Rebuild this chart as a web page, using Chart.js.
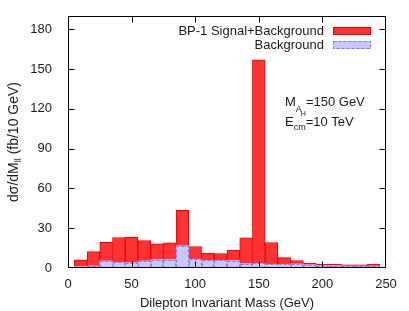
<!DOCTYPE html>
<html><head><meta charset="utf-8">
<script src="https://cdn.jsdelivr.net/npm/chart.js@4.4.0/dist/chart.umd.min.js"></script>
<style>html,body{margin:0;padding:0;background:#fff;}#wrap{width:409px;height:311px;}</style>
</head><body><div id="wrap"><canvas id="c" width="409" height="311"></canvas></div>
<script>
const binCenters = [10,20,30,40,50,60,70,80,90,100,110,120,130,140,150,160,170,180,190,200,210,220,230,240];
const signalPlusBackground = [6.1,12.4,19.4,23.0,23.2,20.7,18.2,18.9,43.4,16.2,11.1,10.9,13.6,22.7,157.0,19.2,7.8,5.6,3.8,3.0,3.0,2.3,2.3,3.0];
const background = [1.0,1.5,5.3,4.3,4.0,5.3,6.3,6.3,16.7,6.6,5.8,5.8,5.6,3.3,3.5,2.8,2.8,3.0,2.5,1.8,1.8,1.5,1.5,1.5];
const xTickValues = [0,50,100,150,200,250];
const yTickValues = [0,30,60,90,120,150,180];
const legendLabels = ['BP-1 Signal+Background','Background'];
const xTitle = 'Dilepton Invariant Mass (GeV)';

const FONT = '"Liberation Sans", Arial, Helvetica, sans-serif';
const TXT = '#1a1a1a';

const toXY = (vals) => binCenters.map((x,i) => ({x: x, y: vals[i]}));

const decor = {
  id: 'decor',
  afterDatasetsDraw(chart) {
    const ctx = chart.ctx;
    const a = chart.chartArea;
    const xs = chart.scales.x, ys = chart.scales.y;
    const meta = chart.getDatasetMeta(1);
    ctx.save();
    ctx.strokeStyle = 'rgba(110,110,255,0.9)';
    ctx.lineWidth = 1;
    ctx.setLineDash([3,2]);
    meta.data.forEach(el => {
      const p = el.getProps(['x','y','base','width'], true);
      const l = Math.round(p.x - p.width/2) + 0.5, r = Math.round(p.x + p.width/2) - 0.5;
      const t = Math.round(p.y) + 0.5, b = Math.round(p.base) - 0.5;
      ctx.strokeRect(l, t, r - l, b - t);
    });
    ctx.restore();

    ctx.save();
    ctx.strokeStyle = '#000';
    ctx.lineWidth = 1;
    const L = Math.round(a.left)+0.5, R = Math.round(a.right)-0.5, T = Math.round(a.top)+0.5, B = Math.round(a.bottom)-0.5;
    ctx.strokeRect(L, T, R-L, B-T);
    const tl = 6;
    ctx.beginPath();
    yTickValues.forEach(v => {
      const y = Math.round(ys.getPixelForValue(v)) + 0.5;
      if (v === 0) return;
      ctx.moveTo(L, y); ctx.lineTo(L+tl, y);
      ctx.moveTo(R, y); ctx.lineTo(R-tl, y);
    });
    xTickValues.forEach(v => {
      const x = Math.round(xs.getPixelForValue(v)) + 0.5;
      if (v === 0 || v === 250) return;
      ctx.moveTo(x, B); ctx.lineTo(x, B-tl);
      ctx.moveTo(x, T); ctx.lineTo(x, T+tl);
    });
    ctx.stroke();
    ctx.restore();

    ctx.save();
    ctx.font = '13px ' + FONT;
    ctx.fillStyle = TXT;
    ctx.textAlign = 'right';
    ctx.textBaseline = 'middle';
    const lx = 324, ly = [31, 45];
    ctx.fillText(legendLabels[0], lx, ly[0]);
    ctx.fillText(legendLabels[1], lx, ly[1]);
    const ds0 = chart.data.datasets[0], ds1 = chart.data.datasets[1];
    ctx.fillStyle = ds0.backgroundColor;
    ctx.fillRect(333, ly[0]-4, 38, 8);
    ctx.strokeStyle = ds0.borderColor;
    ctx.strokeRect(333.5, ly[0]-3.5, 37, 7);
    ctx.fillStyle = ds1.backgroundColor;
    ctx.fillRect(333, ly[1]-4, 38, 8);
    ctx.strokeStyle = 'rgba(110,110,255,0.9)';
    ctx.setLineDash([3,2]);
    ctx.strokeRect(333.5, ly[1]-3.5, 37, 7);
    ctx.setLineDash([]);

    ctx.textAlign = 'left';
    ctx.textBaseline = 'alphabetic';
    ctx.fillStyle = TXT;
    let x = 285, y = 106;
    ctx.font = '13px ' + FONT;
    ctx.fillText('M', x, y); x += ctx.measureText('M').width;
    ctx.font = '9px ' + FONT;
    ctx.fillText('A', x, y + 6); const xa = x + ctx.measureText('A').width;
    ctx.font = '7px ' + FONT;
    ctx.fillText('H', xa - 1, y + 10); x = xa - 1 + ctx.measureText('H').width;
    ctx.font = '13px ' + FONT;
    ctx.fillText('=150 GeV', x, y);
    x = 285; y = 126;
    ctx.fillText('E', x, y); x += ctx.measureText('E').width;
    ctx.font = '9px ' + FONT;
    ctx.fillText('cm', x, y + 4); x += ctx.measureText('cm').width;
    ctx.font = '13px ' + FONT;
    ctx.fillText('=10 TeV', x, y);

    ctx.textAlign = 'center';
    ctx.textBaseline = 'middle';
    ctx.fillText(xTitle, (a.left + a.right)/2, 303);

    ctx.translate(13, 142);
    ctx.rotate(-Math.PI/2);
    const p1 = 'dσ/dM', sub = 'll', p2 = ' (fb/10 GeV)';
    ctx.font = '14px ' + FONT; const w1 = ctx.measureText(p1).width, w3 = ctx.measureText(p2).width;
    ctx.font = '9px ' + FONT; const w2 = ctx.measureText(sub).width;
    let sx = -(w1 + w2 + w3)/2;
    ctx.textAlign = 'left';
    ctx.textBaseline = 'alphabetic';
    ctx.font = '14px ' + FONT; ctx.fillText(p1, sx, 5); sx += w1;
    ctx.font = '9px ' + FONT; ctx.fillText(sub, sx, 8); sx += w2;
    ctx.font = '14px ' + FONT; ctx.fillText(p2, sx, 5);
    ctx.restore();
  }
};

new Chart(document.getElementById('c'), {
  type: 'bar',
  data: {
    datasets: [
      {
        label: legendLabels[0],
        data: toXY(signalPlusBackground),
        backgroundColor: '#ff3333',
        borderColor: '#f00000',
        borderWidth: 1,
        borderSkipped: false,
        grouped: false,
        barPercentage: 1,
        categoryPercentage: 1,
        order: 2
      },
      {
        label: legendLabels[1],
        data: toXY(background),
        backgroundColor: '#c8c8ff',
        borderWidth: 0,
        grouped: false,
        barPercentage: 1,
        categoryPercentage: 1,
        order: 1
      }
    ]
  },
  plugins: [decor],
  options: {
    responsive: false,
    animation: false,
    devicePixelRatio: 1,
    layout: { padding: { top: 16, right: 23, left: 0, bottom: 0 } },
    plugins: { legend: { display: false }, tooltip: { enabled: false } },
    scales: {
      x: {
        type: 'linear', min: 0, max: 250, offset: false,
        grid: { display: false }, border: { display: false },
        ticks: { font: { family: FONT, size: 13 }, color: TXT, padding: 1, maxRotation: 0, autoSkip: false },
        afterBuildTicks: s => { s.ticks = xTickValues.map(v => ({ value: v })); },
        afterFit: s => { s.height = 43; }
      },
      y: {
        min: 0, max: 190,
        grid: { display: false }, border: { display: false },
        ticks: { font: { family: FONT, size: 13 }, color: TXT, padding: 8 },
        afterBuildTicks: s => { s.ticks = yTickValues.map(v => ({ value: v })); },
        afterFit: s => { s.width = 68; }
      }
    }
  }
});
</script>
</body></html>
